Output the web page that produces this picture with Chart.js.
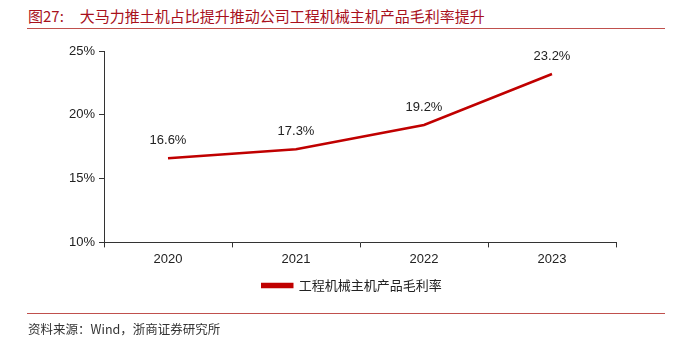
<!DOCTYPE html>
<html>
<head>
<meta charset="utf-8">
<script src="https://cdn.jsdelivr.net/npm/chart.js@4/dist/chart.umd.min.js"></script>
<style>
  body { margin: 0; background: #fff; }
  #wrap { position: relative; width: 675px; height: 338px; overflow: hidden; }
  #title { position: absolute; left: 28px; top: 5px; font: 15px "Noto Sans CJK SC", serif; color: #a8101c; white-space: nowrap; }
  #title span { margin-left: 16px; }
  #titleLine { position: absolute; left: 27px; top: 28px; width: 638px; height: 1px; background: #c0504d; }
  #footLine { position: absolute; left: 27px; top: 313px; width: 638px; height: 1px; background: #c0504d; }
  #foot { position: absolute; left: 28px; top: 319px; font: 12.5px "Noto Sans CJK SC", serif; color: #333; white-space: nowrap; }
  canvas { position: absolute; left: 0; top: 0; }
</style>
</head>
<body>
<div id="wrap">
  <div id="title">图27:<span>大马力推土机占比提升推动公司工程机械主机产品毛利率提升</span></div>
  <div id="titleLine"></div>
  <canvas id="chart" width="675" height="338"></canvas>
  <div id="footLine"></div>
  <div id="foot">资料来源：Wind，浙商证券研究所</div>
</div>
<script>
// Data
const years = ['2020', '2021', '2022', '2023'];
const margin = [16.6, 17.3, 19.2, 23.2];
const yTicks = [10, 15, 20, 25];

// Draw value labels above points
const valueLabels = {
    id: 'valueLabels',
    afterDatasetsDraw(chart) {
        const ctx = chart.ctx;
        const meta = chart.getDatasetMeta(0);
        ctx.save();
        ctx.font = '13px "Liberation Sans", Arial, sans-serif';
        ctx.fillStyle = '#222';
        ctx.textAlign = 'center';
        ctx.textBaseline = 'middle';
        meta.data.forEach((pt, i) => {
            ctx.fillText(margin[i].toFixed(1) + '%', pt.x, pt.y - 18);
        });
        ctx.restore();
    }
};

// Nudge legend to the right like the source
const legendShift = {
    id: 'legendShift',
    afterLayout(chart) {
        chart.legend.left += 44;
        chart.legend.right += 44;
    }
};

const ctx = document.getElementById('chart').getContext('2d');
const chart = new Chart(ctx, {
    type: 'line',
    data: {
        labels: years,
        datasets: [{
            label: '工程机械主机产品毛利率',
            data: margin,
            borderColor: '#c00000',
            backgroundColor: '#c00000',
            borderWidth: 2.5,
            pointRadius: 0,
            tension: 0
        }]
    },
    options: {
        responsive: false,
        animation: false,
        layout: { padding: { top: 51, right: 59, left: 0, bottom: 36 } },
        plugins: {
            legend: {
                position: 'bottom',
                labels: {
                    boxWidth: 30,
                    boxHeight: 3,
                    color: '#222',
                    font: { family: '"Noto Sans CJK SC", sans-serif', size: 13 },
                    padding: 8
                }
            },
            tooltip: { enabled: false }
        },
        scales: {
            x: {
                offset: true,
                grid: { drawOnChartArea: false, tickLength: 5, color: '#333', offset: true },
                border: { color: '#333', width: 1 },
                ticks: { color: '#222', font: { family: '"Liberation Sans", Arial', size: 13 }, padding: 4 }
            },
            y: {
                min: 10,
                max: 25,
                afterBuildTicks: (scale) => { scale.ticks = yTicks.map(v => ({ value: v })); },
                afterFit: (scale) => { scale.width = 104; },
                grid: { drawOnChartArea: false, tickLength: 5, color: '#333' },
                border: { color: '#333', width: 1 },
                ticks: {
                    color: '#222',
                    font: { family: '"Liberation Sans", Arial', size: 13 },
                    padding: 4,
                    callback: (v) => v + '%'
                }
            }
        }
    },
    plugins: [valueLabels, legendShift]
});
</script>
</body>
</html>
